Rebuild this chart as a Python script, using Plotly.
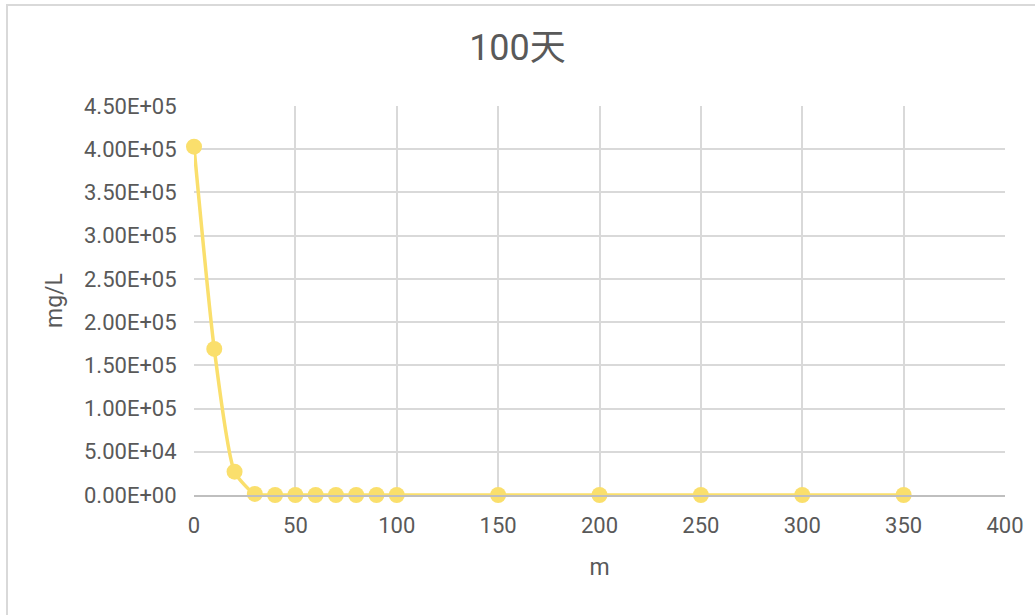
import plotly.graph_objects as go

distance_m = [0, 10, 20, 30, 40, 50, 60, 70, 80, 90, 100, 150, 200, 250, 300, 350]
conc_mg_L = [403000, 169000, 27000, 1200, 0, 0, 0, 0, 0, 0, 0, 0, 0, 0, 0, 0]
y_ticks = [0, 50000, 100000, 150000, 200000, 250000, 300000, 350000, 400000, 450000]
y_tick_labels = ["0.00E+00", "5.00E+04", "1.00E+05", "1.50E+05", "2.00E+05",
                 "2.50E+05", "3.00E+05", "3.50E+05", "4.00E+05", "4.50E+05"]
x_ticks = [0, 50, 100, 150, 200, 250, 300, 350, 400]

font_family = "Roboto, 'Noto Sans CJK SC', sans-serif"
text_color = "#595959"
yellow = "#FADF6C"

fig = go.Figure()
fig.add_trace(go.Scatter(
    x=distance_m, y=conc_mg_L, mode="lines+markers",
    line=dict(color=yellow, width=3.5, shape="spline", smoothing=0.6),
    marker=dict(color=yellow, size=16),
    showlegend=False, cliponaxis=False,
))

fig.update_layout(
    width=1035, height=615,
    margin=dict(l=194, r=30, t=106, b=120),
    paper_bgcolor="white", plot_bgcolor="white",
    font=dict(family=font_family, color=text_color, size=22),
    title=dict(text="100天", x=0.5, xanchor="center", y=1 - 47 / 615, yanchor="middle",
               font=dict(size=36, color=text_color, family="Roboto, 'Noto Sans CJK SC', sans-serif")),
    xaxis=dict(range=[0, 400], tickvals=x_ticks, showgrid=True, gridcolor="#d9d9d9",
               gridwidth=1.5, zeroline=False, showline=True, linecolor="#bfbfbf", linewidth=1.5,
               ticks="outside", ticklen=10, tickcolor="rgba(0,0,0,0)",
               tickfont=dict(size=22, color=text_color),
               title=dict(text="m", font=dict(size=23, color=text_color), standoff=22)),
    yaxis=dict(range=[0, 450000], tickvals=y_ticks, ticktext=y_tick_labels, showgrid=True,
               gridcolor="#d9d9d9", gridwidth=1.5, zeroline=False, showline=False,
               ticks="outside", ticklen=12, tickcolor="rgba(0,0,0,0)",
               tickfont=dict(size=22, color=text_color),
               title=dict(text="mg/L", font=dict(size=23, color=text_color), standoff=14)),
)

fig.add_shape(type="rect", xref="paper", yref="paper",
              x0=(7 - 194) / 811, y0=-0.5, x1=1.2, y1=(495 - 5) / 389,
              line=dict(color="#d9d9d9", width=2), layer="below")

fig.write_html("out.html", config={"displayModeBar": False},
               post_script="document.body.style.margin='0';")
